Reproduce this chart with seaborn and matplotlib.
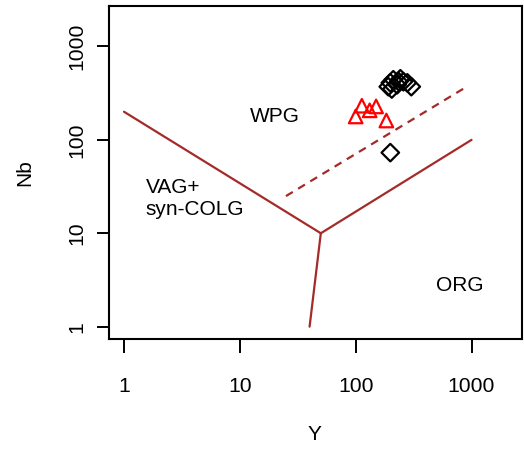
import matplotlib
matplotlib.use("Agg")
import matplotlib.pyplot as plt
import seaborn as sns
import numpy as np
import pandas as pd

# Sample data (Y, Nb in ppm)
tri_y = [113, 100, 132, 150, 184]
tri_nb = [232, 178, 207, 228, 161]
dia_y = [191, 199, 211, 228, 243, 258, 279, 302, 205, 235, 199]
dia_nb = [371, 408, 440, 389, 451, 419, 408, 371, 350, 420, 73]

# Pearce et al. (1984) boundaries
b1_y = [1, 50, 1000]
b1_nb = [200, 10, 100]
b2_y = [50, 40]
b2_nb = [10, 1]
dash_y = [25, 880]
dash_nb = [25, 362]

xticks = [1, 10, 100, 1000]
yticks = [1, 10, 100, 1000]
tick_labels = ["1", "10", "100", "1000"]

sns.set_theme(style="ticks")
plt.rcParams['font.family'] = ['Liberation Sans', 'DejaVu Sans']
plt.rcParams['text.color'] = 'black'
plt.rcParams['axes.labelcolor'] = 'black'
FS = 15.0
TFS = 15.2
BROWN = "#A52A2A"

fig = plt.figure(figsize=(5.24, 4.54), dpi=100)
ax = fig.add_axes([108.7/524, 115/454, 413/524, 333/454])

tri = pd.DataFrame({"Y": tri_y, "Nb": tri_nb})
dia = pd.DataFrame({"Y": dia_y, "Nb": dia_nb})
l1 = pd.DataFrame({"Y": b1_y, "Nb": b1_nb})
l2 = pd.DataFrame({"Y": b2_y, "Nb": b2_nb})
l3 = pd.DataFrame({"Y": dash_y, "Nb": dash_nb})

for d, ls in [(l1, "-"), (l2, "-"), (l3, (0, (3.6, 2.8)))]:
    sns.lineplot(data=d, x="Y", y="Nb", sort=False, estimator=None, ax=ax,
                 color=BROWN, linewidth=1.6, linestyle=ls)

sns.scatterplot(data=dia, x="Y", y="Nb", marker="D", s=80, facecolors="none",
                edgecolor="black", linewidth=1.6, ax=ax)
sns.scatterplot(data=tri, x="Y", y="Nb", marker="^", s=95, facecolors="none",
                edgecolor="red", linewidth=1.6, ax=ax)

ax.set_xscale("log")
ax.set_yscale("log")
lo, hi = 10**(-0.132), 10**(3.433)
ax.set_xlim(lo, hi)
ax.set_ylim(lo, hi)
ax.set_xticks(xticks)
ax.set_xticklabels(tick_labels)
ax.set_yticks(yticks)
ax.set_yticklabels(tick_labels, rotation=90, va="center")
ax.minorticks_off()
ax.tick_params(axis="x", length=10, width=1.4, pad=17, labelsize=TFS, colors="black")
ax.tick_params(axis="y", length=9, width=1.4, pad=7, labelsize=TFS, colors="black")
for sp in ax.spines.values():
    sp.set_linewidth(1.5)
    sp.set_color("black")
    sp.set_visible(True)

ax.set_xlabel("Y", fontsize=FS)
ax.set_ylabel("Nb", fontsize=FS)
ax.xaxis.set_label_coords(0.497, -0.288)
ax.xaxis.label.set_va("center")
ax.yaxis.set_label_coords(-0.204, 0.5)
ax.yaxis.label.set_va("center")

ax.text(20, 177, "WPG", fontsize=FS, ha="center", va="center")
ax.text(1.54, 23.5, "VAG+\nsyn-COLG", fontsize=FS, ha="left", va="center", linespacing=1.25)
ax.text(786, 2.74, "ORG", fontsize=FS, ha="center", va="center")

fig.savefig("out.png", dpi=100)
